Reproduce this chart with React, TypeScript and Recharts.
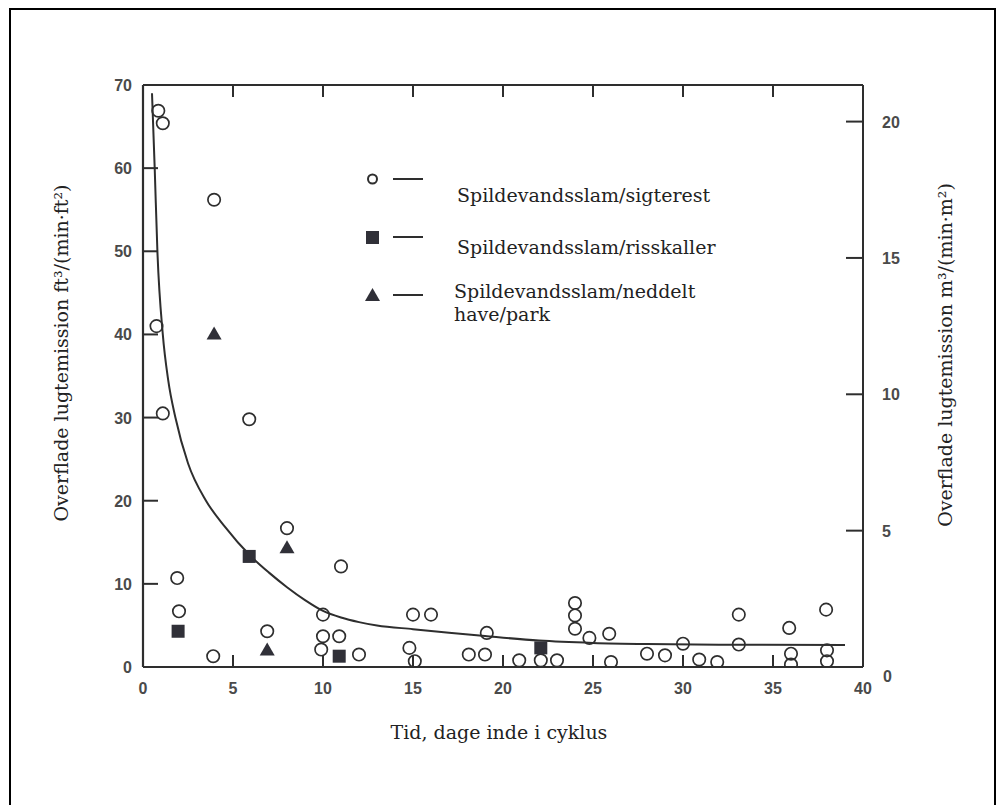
import React from "react";
import { ComposedChart, Scatter, Line, XAxis, YAxis, Legend, Label, ReferenceLine } from "recharts";

// [tid (dage), emission ft3/(min·ft2)]
const sigterestPoints = [
  [0.85, 66.9], [1.1, 65.4], [0.75, 41.0], [1.1, 30.5], [3.95, 56.2], [5.9, 29.8],
  [1.9, 10.7], [2.0, 6.7], [3.9, 1.3], [8.0, 16.7], [6.9, 4.3], [10.0, 6.3],
  [10.0, 3.7], [10.9, 3.7], [9.9, 2.1], [11.0, 12.1], [12.0, 1.5], [15.0, 6.3],
  [16.0, 6.3], [14.8, 2.3], [15.1, 0.7], [18.1, 1.5], [19.0, 1.5], [19.1, 4.1],
  [20.9, 0.8], [22.1, 0.8], [23.0, 0.8], [24.0, 7.7], [24.0, 6.2], [24.0, 4.6],
  [24.8, 3.5], [25.9, 4.0], [26.0, 0.6], [28.0, 1.6], [29.0, 1.4], [30.0, 2.8],
  [30.9, 0.9], [31.9, 0.6], [33.1, 6.3], [33.1, 2.7], [35.9, 4.7], [36.0, 1.6],
  [36.0, 0.3], [37.95, 6.9], [38.0, 2.0], [38.0, 0.7],
];
const risskallerPoints = [[1.95, 4.3], [5.9, 13.3], [10.9, 1.3], [22.1, 2.3]];
const haveParkPoints = [[3.95, 40.1], [8.0, 14.4], [6.9, 2.1]];

// fitted curve, traced point by point
const curvePoints = [
  [0.5, 69], [0.65, 60], [0.8, 50], [1.1, 40], [1.4, 34.5], [1.8, 30], [2.5, 24.5],
  [3.5, 20], [4.5, 17], [6, 13.3], [7, 11.35], [8, 9.6], [9, 8.05], [10, 6.75],
  [11, 5.95], [12, 5.4], [13, 5.0], [15, 4.55], [17, 4.12], [19, 3.72], [22, 3.18],
  [25, 2.9], [28, 2.76], [32, 2.68], [39, 2.65],
];

const seriesNames = [
  "Spildevandsslam/sigterest",
  "Spildevandsslam/risskaller",
  "Spildevandsslam/neddelt have/park",
];

const xTicks = [0, 5, 10, 15, 20, 25, 30, 35, 40];
const topTicks = [5, 10, 15, 20, 25, 30, 35];
const yTicks = [0, 10, 20, 30, 40, 50, 60, 70];
const rightTicks = [0, 5, 10, 15, 20];
const X_MAX = 40;
const Y_MAX = 70;
const FT_PER_M = 3.28;
const TOP_TICK_LEN = 1.45; // y units, about 12px

const toXY = (pts: number[][]) => pts.map(([x, y]) => ({ x, y }));

const INK = "#2e2e2e";
const MARK = "#303038";
const serif = "'DejaVu Serif', 'Liberation Serif', serif";
const tickFont = {
  fontFamily: "'Liberation Sans', Arial, sans-serif",
  fontSize: 16,
  fontWeight: 700,
  fill: "#4a4a4a",
};
const axisStroke = { stroke: INK, strokeWidth: 2 };

// ticks point into the plot, labels sit outside
function BottomTick({ x, y, payload }: any) {
  const v = payload.value;
  return (
    <g>
      {v !== 0 && v !== X_MAX && <line x1={x} x2={x} y1={y} y2={y - 12} stroke={INK} strokeWidth={2} />}
      <text x={x} y={y + 27} textAnchor="middle" {...tickFont}>{v}</text>
    </g>
  );
}

function LeftTick({ x, y, payload }: any) {
  const v = payload.value;
  return (
    <g>
      {v !== 0 && v !== Y_MAX && <line x1={x} x2={x + 15} y1={y} y2={y} stroke={INK} strokeWidth={2} />}
      <text x={x - 11} y={y + 6} textAnchor="end" {...tickFont}>{v}</text>
    </g>
  );
}

function RightTick({ x, y, payload }: any) {
  const v = payload.value;
  return (
    <g>
      {v !== 0 && <line x1={x} x2={x - 17} y1={y} y2={y} stroke={INK} strokeWidth={2} />}
      <text x={x + (v === 0 ? 20 : 19)} y={y + (v === 0 ? 15 : 6)} textAnchor="start" {...tickFont}>{v}</text>
    </g>
  );
}

const OpenCircle = ({ cx, cy }: any) => (
  <circle cx={cx} cy={cy} r={6.2} fill="none" stroke={INK} strokeWidth={1.7} />
);
const FilledSquare = ({ cx, cy }: any) => (
  <rect x={cx - 6.5} y={cy - 6.5} width={13} height={13} fill={MARK} />
);
const FilledTriangle = ({ cx, cy }: any) => (
  <polygon points={`${cx},${cy - 7} ${cx + 7.5},${cy + 6} ${cx - 7.5},${cy + 6}`} fill={MARK} />
);

function LegendBox() {
  const txt = { fontFamily: serif, fontSize: 19, fill: "#222" };
  return (
    <svg width={420} height={180} style={{ overflow: "visible" }}>
      {/* circle row */}
      <circle cx={22.5} cy={19} r={4.5} fill="none" stroke={INK} strokeWidth={2} />
      <line x1={43} x2={73} y1={19} y2={19} stroke={INK} strokeWidth={2} />
      <text x={107} y={35} dominantBaseline="central" {...txt}>{seriesNames[0]}</text>
      {/* square row */}
      <rect x={16} y={71} width={13} height={13} fill={MARK} />
      <line x1={43} x2={73} y1={77} y2={77} stroke={INK} strokeWidth={2} />
      <text x={107} y={87} dominantBaseline="central" {...txt}>{seriesNames[1]}</text>
      {/* triangle row */}
      <polygon points="22.5,128 30,141 15,141" fill={MARK} />
      <line x1={43} x2={73} y1={135} y2={135} stroke={INK} strokeWidth={2} />
      <text x={104} y={131} dominantBaseline="central" {...txt}>Spildevandsslam/neddelt</text>
      <text x={104} y={154} dominantBaseline="central" {...txt}>have/park</text>
    </svg>
  );
}

export default function App() {
  return (
    <div style={{ position: "fixed", left: 0, top: 0, width: 1007, height: 805, background: "#fff" }}>
      {/* scan frame */}
      <div
        style={{
          position: "absolute",
          left: 9,
          top: 8,
          width: 987,
          height: 820,
          borderTop: "2px solid #000",
          borderLeft: "2px solid #000",
          borderRight: "2px solid #000",
          boxSizing: "border-box",
        }}
      />
      <div style={{ position: "absolute", left: 0, top: 0 }}>
        <ComposedChart width={1007} height={805} margin={{ top: 85, right: 84, bottom: 88, left: 83 }}>
          <XAxis
            xAxisId={0}
            dataKey="x"
            type="number"
            domain={[0, X_MAX]}
            ticks={xTicks}
            allowDataOverflow
            height={50}
            axisLine={axisStroke}
            tickLine={false}
            tickSize={0}
            tickMargin={0}
            tick={BottomTick}
          >
            <Label
              content={({ viewBox }: any) => (
                <text
                  x={viewBox.x + viewBox.width / 2 - 4}
                  y={viewBox.y + 72}
                  textAnchor="middle"
                  fontFamily={serif}
                  fontSize={19}
                  fill="#222"
                >
                  Tid, dage inde i cyklus
                </text>
              )}
            />
          </XAxis>
          <YAxis
            yAxisId={0}
            dataKey="y"
            type="number"
            domain={[0, Y_MAX]}
            ticks={yTicks}
            allowDataOverflow
            width={60}
            axisLine={{ stroke: INK, strokeWidth: 2.2 }}
            tickLine={false}
            tickSize={0}
            tickMargin={0}
            tick={LeftTick}
          >
            <Label
              content={({ viewBox }: any) => {
                const cx = viewBox.x + viewBox.width - 82;
                const cy = viewBox.y + viewBox.height / 2 - 23;
                return (
                  <text
                    x={cx}
                    y={cy}
                    transform={`rotate(-90, ${cx}, ${cy})`}
                    textAnchor="middle"
                    dominantBaseline="central"
                    fontFamily={serif}
                    fontSize={19}
                    fill="#222"
                  >
                    Overflade lugtemission ft³/(min·ft²)
                  </text>
                );
              }}
            />
          </YAxis>
          <YAxis
            yAxisId="right"
            orientation="right"
            type="number"
            domain={[0, Y_MAX / FT_PER_M]}
            ticks={rightTicks}
            allowDataOverflow
            width={60}
            axisLine={axisStroke}
            tickLine={false}
            tickSize={0}
            tickMargin={0}
            tick={RightTick}
          >
            <Label
              content={({ viewBox }: any) => {
                const cx = viewBox.x + 82;
                const cy = viewBox.y + viewBox.height / 2 - 21;
                return (
                  <text
                    x={cx}
                    y={cy}
                    transform={`rotate(-90, ${cx}, ${cy})`}
                    textAnchor="middle"
                    dominantBaseline="central"
                    fontFamily={serif}
                    fontSize={19}
                    fill="#222"
                  >
                    Overflade lugtemission m³/(min·m²)
                  </text>
                );
              }}
            />
          </YAxis>

          {/* top edge of the box with its inward ticks */}
          <ReferenceLine y={Y_MAX} stroke={INK} strokeWidth={2} ifOverflow="visible" />
          {topTicks.map((t) => (
            <ReferenceLine
              key={`t${t}`}
              segment={[{ x: t, y: Y_MAX }, { x: t, y: Y_MAX - TOP_TICK_LEN }]}
              stroke={INK}
              strokeWidth={2}
              ifOverflow="visible"
            />
          ))}

          <Legend
            layout="horizontal"
            verticalAlign="middle"
            align="center"
            content={() => <LegendBox />}
            wrapperStyle={{ position: "absolute", left: 350, top: 160, width: 420, height: 180 }}
          />
          <Line
            data={toXY(curvePoints)}
            dataKey="y"
            type="monotone"
            stroke={INK}
            strokeWidth={2}
            dot={false}
            activeDot={false}
            legendType="none"
            isAnimationActive={false}
          />
          <Scatter name={seriesNames[0]} data={toXY(sigterestPoints)} shape={OpenCircle} isAnimationActive={false} />
          <Scatter name={seriesNames[1]} data={toXY(risskallerPoints)} shape={FilledSquare} isAnimationActive={false} />
          <Scatter name={seriesNames[2]} data={toXY(haveParkPoints)} shape={FilledTriangle} isAnimationActive={false} />
        </ComposedChart>
      </div>
    </div>
  );
}
